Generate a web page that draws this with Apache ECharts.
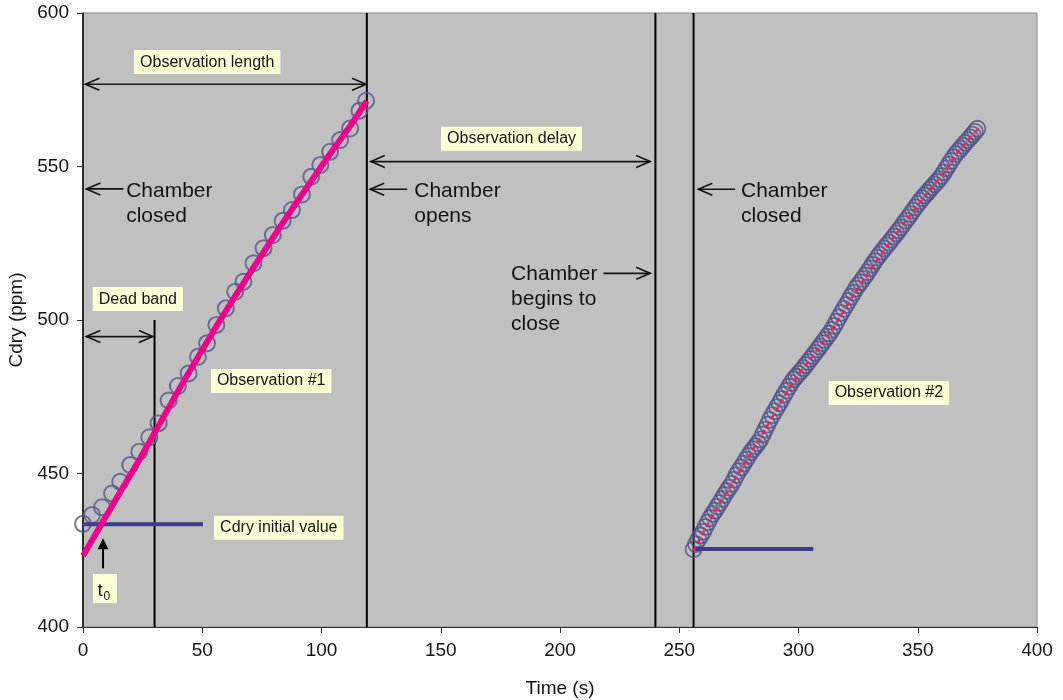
<!DOCTYPE html>
<html><head><meta charset="utf-8">
<script src="https://cdn.jsdelivr.net/npm/echarts@6/dist/echarts.min.js"></script>
<style>html,body{margin:0;padding:0;background:#fff}#c{width:1063px;height:700px}</style>
</head><body><div id="c"></div>
<script>
// ---- data ----
const obs1Time = [0, 3.8, 8.0, 12.2, 15.6, 19.8, 23.6, 27.8, 31.7, 35.9, 39.8, 44.3, 48.2, 52.0, 55.9, 59.9, 63.8, 67.3, 71.5, 75.7, 79.6, 83.7, 87.6, 91.8, 95.7, 99.5, 103.6, 107.8, 112.0, 115.9, 118.7];
const obs1Cdry = [433.6, 436.5, 439.0, 443.5, 447.3, 452.8, 457.1, 461.8, 466.4, 473.8, 478.5, 482.6, 488.0, 492.4, 498.4, 503.8, 509.2, 512.5, 518.5, 523.4, 527.7, 532.3, 535.8, 540.9, 546.7, 550.5, 554.8, 558.6, 562.4, 568.2, 571.4];
const obs2Time = [256,257,258,259,260,261,262,263,264,265,266,267,268,269,270,271,272,273,274,275,276,277,278,279,280,281,282,283,284,285,286,287,288,289,290,291,292,293,294,295,296,297,298,299,300,301,302,303,304,305,306,307,308,309,310,311,312,313,314,315,316,317,318,319,320,321,322,323,324,325,326,327,328,329,330,331,332,333,334,335,336,337,338,339,340,341,342,343,344,345,346,347,348,349,350,351,352,353,354,355,356,357,358,359,360,361,362,363,364,365,366,367,368,369,370,371,372,373,374,375];
const obs2Cdry = [425.3,427.0,428.6,429.8,431.0,432.6,434.1,435.5,436.8,437.9,439.2,440.4,441.7,443.0,444.3,445.4,446.6,448.0,449.5,450.8,452.0,453.2,454.5,455.7,456.9,457.9,458.9,459.9,461.1,462.7,464.3,465.9,467.5,469.0,470.3,471.6,472.9,474.3,475.7,477.0,478.3,479.5,480.7,481.6,482.5,483.4,484.3,485.3,486.3,487.3,488.3,489.3,490.4,491.4,492.5,493.5,494.6,495.6,496.8,498.1,499.5,500.9,502.3,503.6,504.9,506.2,507.6,508.9,510.2,511.3,512.3,513.4,514.5,515.6,516.8,518.0,519.2,520.3,521.3,522.3,523.3,524.3,525.2,526.2,527.2,528.2,529.2,530.2,531.3,532.4,533.4,534.5,535.6,536.7,537.8,538.8,539.7,540.6,541.5,542.4,543.3,544.2,545.0,545.9,546.9,548.1,549.4,550.6,551.8,553.0,554.1,555.0,555.9,556.8,557.7,558.6,559.5,560.4,561.3,562.3];
// fitted (exponential) curves
const fit1Time = [0, 8, 16, 24, 32, 40, 48, 56, 64, 72, 80, 88, 96, 104, 112, 119];
const fit1Cdry = [423.2, 433.9, 444.5, 455.0, 466.0, 477.0, 487.6, 498.0, 508.0, 517.7, 527.2, 536.5, 545.6, 554.5, 563.2, 571.4];
const fit2Time = [256, 264, 272, 280, 290, 298, 313, 326, 336, 345, 354, 361, 366, 375];
const fit2Cdry = [424.8, 436.4, 446.5, 456.6, 469.6, 480.0, 495.7, 511.6, 522.8, 532.2, 541.3, 548.0, 553.8, 562.0];
const initLine1 = [[0, 433.5], [50.3, 433.5]];
const initLine2 = [[256, 425.4], [306.2, 425.4]];
const eventTimes = [30, 119, 240, 256];
const eventTops = [500, 600, 600, 600];
const spanArrows = [[1.0, 118.7, 576.8], [120.7, 237.8, 551.6], [1.4, 29.3, 494.6]]; // from, to, y (double headed)
const pointerArrows = [[16.9, 542.7, 1.4, 542.7], [135.9, 542.6, 120.4, 542.6], [218.2, 515.2, 237.8, 515.2], [273.4, 542.6, 258.0, 542.6]]; // tail -> head
const t0Arrow = [[8.4, 419.1, 8.4, 428.9]];
const noteTexts = ['Chamber\nclosed', 'Chamber\nopens', 'Chamber\nbegins to\nclose', 'Chamber\nclosed'];
const noteAnchors = [[18.1, 542.0], [138.9, 542.1], [179.5, 515.0], [275.9, 542.1]];
const boxTexts = ['Observation length', 'Observation delay', 'Dead band', 'Observation #1', 'Observation #2', 'Cdry initial value'];
const boxAnchors = [[52.1, 584.0], [179.7, 559.0], [23.0, 506.8], [78.9, 480.1], [337.9, 476.2], [82.1, 432.3]];
const t0Anchor = [[9.2, 412.5]];
const xTicks = { min: 0, max: 400, step: 50 };
const yTicks = { min: 400, max: 600, step: 50 };

// ---- chart ----
const FONT = '"Liberation Sans", Arial, Helvetica, sans-serif';
const INK = '#141414';
const chart = echarts.init(document.getElementById('c'));

function chevron(tip, from, len, half) {
  const dx = tip[0] - from[0], dy = tip[1] - from[1];
  const d = Math.sqrt(dx * dx + dy * dy) || 1;
  const ux = dx / d, uy = dy / d, nx = -uy, ny = ux;
  return [[tip[0] - ux * len + nx * half, tip[1] - uy * len + ny * half], tip,
          [tip[0] - ux * len - nx * half, tip[1] - uy * len - ny * half]];
}
const lineSt = { stroke: INK, lineWidth: 1.6 };

const option = {
  animation: false,
  backgroundColor: '#ffffff',
  grid: { left: 83, top: 13, width: 954, height: 614, show: true, backgroundColor: '#C0C0C0', borderColor: '#8a8a8a', borderWidth: 1, outerBoundsMode: 'none', containLabel: false },
  xAxis: {
    type: 'value', min: xTicks.min, max: xTicks.max, interval: xTicks.step,
    name: 'Time (s)', nameLocation: 'middle', nameGap: 52,
    nameTextStyle: { fontFamily: FONT, fontSize: 19, color: INK },
    axisLine: { show: true, lineStyle: { color: '#333', width: 1 } },
    axisTick: { show: true, length: 6, lineStyle: { color: '#333' } },
    axisLabel: { fontFamily: FONT, fontSize: 19, color: INK, margin: 14 },
    splitLine: { show: false }
  },
  yAxis: {
    type: 'value', min: yTicks.min, max: yTicks.max, interval: yTicks.step,
    name: 'Cdry (ppm)', nameLocation: 'middle', nameGap: 55,
    nameTextStyle: { fontFamily: FONT, fontSize: 19, color: INK },
    axisLine: { show: true, lineStyle: { color: '#000', width: 1.5 } },
    axisTick: { show: true, length: 6, lineStyle: { color: '#333' } },
    axisLabel: { fontFamily: FONT, fontSize: 19, color: INK, margin: 14 },
    splitLine: { show: false }
  },
  series: [
    { // event vertical lines
      type: 'custom', silent: true, z: 1, clip: false,
      data: eventTimes.map((t, i) => [t, 400, eventTops[i]]),
      encode: { x: 0, y: [1, 2] },
      renderItem: (params, api) => {
        const a = api.coord([api.value(0), api.value(1)]);
        const b = api.coord([api.value(0), api.value(2)]);
        return { type: 'line', shape: { x1: a[0], y1: a[1], x2: b[0], y2: b[1] }, style: { stroke: '#000', lineWidth: 2 } };
      }
    },
    {
      type: 'scatter', z: 2, silent: true,
      data: obs1Time.map((t, i) => [t, obs1Cdry[i]]),
      symbol: 'circle', symbolSize: 16,
      itemStyle: { color: 'rgba(0,0,0,0)', borderColor: '#55558a', borderWidth: 2 }
    },
    {
      type: 'scatter', z: 2, silent: true,
      data: obs2Time.map((t, i) => [t, obs2Cdry[i]]),
      symbol: 'circle', symbolSize: 16,
      itemStyle: { color: 'rgba(0,0,0,0)', borderColor: '#52528a', borderWidth: 1.8 }
    },
    { type: 'line', z: 3, silent: true, data: initLine1, showSymbol: false, symbol: 'none', lineStyle: { color: '#3d3d8c', width: 4 } },
    { type: 'line', z: 3, silent: true, data: initLine2, showSymbol: false, symbol: 'none', lineStyle: { color: '#3d3d8c', width: 4 } },
    { type: 'line', z: 4, silent: true, data: fit1Time.map((t, i) => [t, fit1Cdry[i]]), smooth: 0.3, showSymbol: false, symbol: 'none', lineStyle: { color: '#EC008C', width: 6 } },
    { type: 'line', z: 4, silent: true, data: fit2Time.map((t, i) => [t, fit2Cdry[i]]), smooth: 0.3, showSymbol: false, symbol: 'none', lineStyle: { color: '#E8245A', width: 2.5, type: [5, 4] } },
    { // double headed span arrows
      type: 'custom', silent: true, z: 5, clip: false,
      data: spanArrows, encode: { x: [0, 1], y: 2 },
      renderItem: (params, api) => {
        const a = api.coord([api.value(0), api.value(2)]);
        const b = api.coord([api.value(1), api.value(2)]);
        return { type: 'group', children: [
          { type: 'line', shape: { x1: a[0], y1: a[1], x2: b[0], y2: b[1] }, style: lineSt },
          { type: 'polyline', shape: { points: chevron(a, b, 14, 6) }, style: Object.assign({ fill: null }, lineSt) },
          { type: 'polyline', shape: { points: chevron(b, a, 14, 6) }, style: Object.assign({ fill: null }, lineSt) }
        ] };
      }
    },
    { // pointer arrows
      type: 'custom', silent: true, z: 5, clip: false,
      data: pointerArrows, encode: { x: [0, 2], y: [1, 3] },
      renderItem: (params, api) => {
        const a = api.coord([api.value(0), api.value(1)]);
        const b = api.coord([api.value(2), api.value(3)]);
        return { type: 'group', children: [
          { type: 'line', shape: { x1: a[0], y1: a[1], x2: b[0], y2: b[1] }, style: lineSt },
          { type: 'polyline', shape: { points: chevron(b, a, 14, 6) }, style: Object.assign({ fill: null }, lineSt) }
        ] };
      }
    },
    { // t0 arrow (filled head)
      type: 'custom', silent: true, z: 5, clip: false,
      data: t0Arrow, encode: { x: [0, 2], y: [1, 3] },
      renderItem: (params, api) => {
        const a = api.coord([api.value(0), api.value(1)]);
        const b = api.coord([api.value(2), api.value(3)]);
        return { type: 'group', children: [
          { type: 'line', shape: { x1: a[0], y1: a[1], x2: b[0], y2: b[1] + 9 }, style: { stroke: '#000', lineWidth: 2 } },
          { type: 'polygon', shape: { points: [[b[0], b[1]], [b[0] - 5.5, b[1] + 11], [b[0] + 5.5, b[1] + 11]] }, style: { fill: '#000' } }
        ] };
      }
    },
    { // large notes
      type: 'custom', silent: true, z: 6, clip: false,
      data: noteAnchors.map((p, i) => [p[0], p[1], i]), encode: { x: 0, y: 1 },
      renderItem: (params, api) => {
        const p = api.coord([api.value(0), api.value(1)]);
        return { type: 'text', x: p[0], y: p[1] - 12.5, style: {
          text: noteTexts[api.value(2)], font: '21px ' + FONT, fill: INK,
          align: 'left', verticalAlign: 'top', lineHeight: 25 } };
      }
    },
    { // yellow boxed labels
      type: 'custom', silent: true, z: 7, clip: false,
      data: boxAnchors.map((p, i) => [p[0], p[1], i]), encode: { x: 0, y: 1 },
      renderItem: (params, api) => {
        const p = api.coord([api.value(0), api.value(1)]);
        return { type: 'text', x: p[0], y: p[1], style: {
          text: boxTexts[api.value(2)], font: '16px ' + FONT, fill: INK,
          align: 'center', verticalAlign: 'middle', lineHeight: 16,
          backgroundColor: '#FFFFD6', padding: [4, 6, 4, 6] } };
      }
    },
    { // t0 label
      type: 'custom', silent: true, z: 7, clip: false,
      data: t0Anchor, encode: { x: 0, y: 1 },
      renderItem: (params, api) => {
        const p = api.coord([api.value(0), api.value(1)]);
        return { type: 'group', children: [
          { type: 'rect', shape: { x: p[0] - 12, y: p[1] - 14.5, width: 24, height: 29 }, style: { fill: '#FFFFD6' } },
          { type: 'text', x: p[0] - 7.4, y: p[1] + 2.4, style: { text: 't', font: '19px ' + FONT, fill: INK, align: 'left', verticalAlign: 'middle' } },
          { type: 'text', x: p[0] - 1.4, y: p[1] + 7.8, style: { text: '0', font: '12px ' + FONT, fill: INK, align: 'left', verticalAlign: 'middle' } }
        ] };
      }
    }
  ]
};
chart.setOption(option);
</script>
</body></html>
